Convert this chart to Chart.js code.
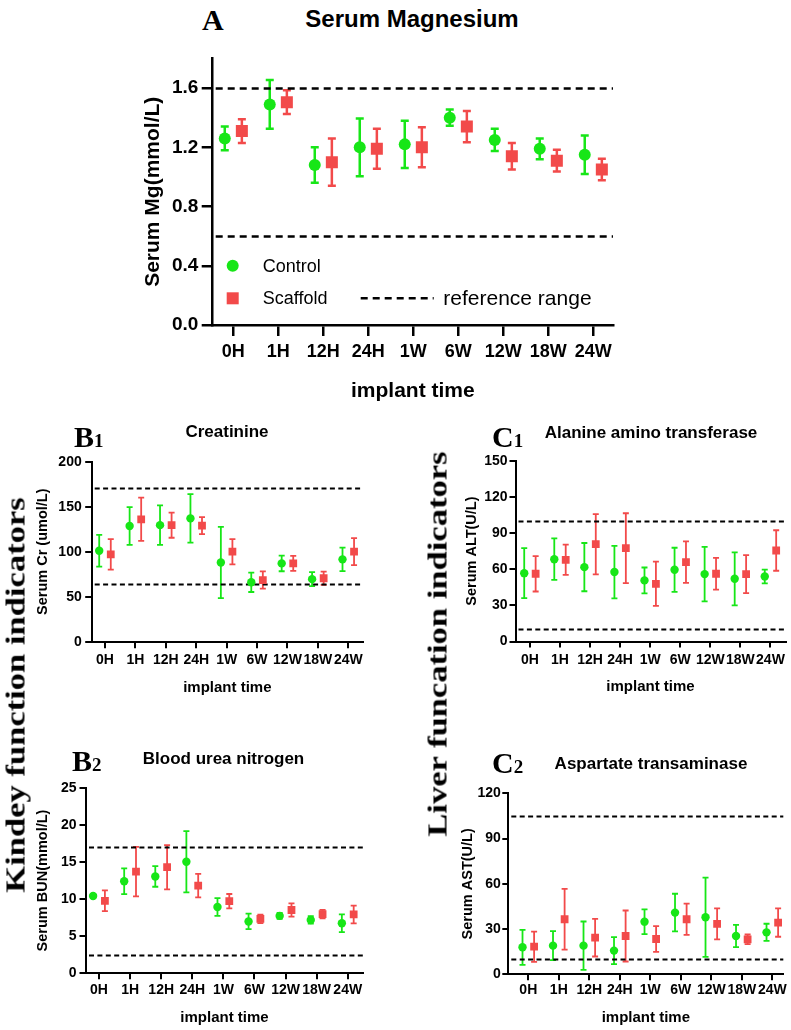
<!DOCTYPE html>
<html>
<head>
<meta charset="utf-8">
<script src="https://cdn.jsdelivr.net/npm/chart.js@4/dist/chart.umd.min.js"></script>
<style>
  html, body { margin:0; padding:0; background:#fff; }
  body { width:791px; height:1030px; position:relative; overflow:hidden; font-family:'Liberation Sans', Arial, sans-serif; }
  canvas { position:absolute; }
  .t { position:absolute; white-space:nowrap; line-height:1; color:#000; transform:translate(-50%,-50%); font-weight:bold; }
  .lab { position:absolute; white-space:nowrap; line-height:30px; height:30px; color:#000; transform:translateY(-50%); font:bold 30px 'Liberation Serif', 'Times New Roman', serif; }
  .lab span { font-size:19px; line-height:0; }
  .rot { position:absolute; white-space:nowrap; line-height:1; color:#000; font:bold 27px 'Liberation Serif', 'Times New Roman', serif; transform:translate(-50%,-50%) rotate(-90deg) scaleX(1.28); }
</style>
</head>
<body>
<canvas id="cA"></canvas>
<canvas id="cB1"></canvas>
<canvas id="cB2"></canvas>
<canvas id="cC1"></canvas>
<canvas id="cC2"></canvas>

<div class="lab" style="left:202px;top:18px;">A</div>
<div class="t" style="left:412px;top:19px;font-size:24px;">Serum Magnesium</div>
<div class="lab" style="left:74px;top:435px;">B<span>1</span></div>
<div class="t" style="left:227px;top:431px;font-size:17px;">Creatinine</div>
<div class="lab" style="left:492px;top:435px;">C<span>1</span></div>
<div class="t" style="left:651px;top:431.5px;font-size:17px;">Alanine amino transferase</div>
<div class="lab" style="left:72px;top:759px;">B<span>2</span></div>
<div class="t" style="left:223.5px;top:758px;font-size:17px;">Blood urea nitrogen</div>
<div class="lab" style="left:492px;top:761px;">C<span>2</span></div>
<div class="t" style="left:651px;top:763px;font-size:17px;">Aspartate transaminase</div>
<div class="rot" style="left:16px;top:695px;">Kindey function indicators</div>
<div class="rot" style="left:437.5px;top:644px;">Liver funcation indicators</div>

<script>
// ---------------- DATA ----------------
const categories = ['0H', '1H', '12H', '24H', '1W', '6W', '12W', '18W', '24W'];

// A: Serum Mg (mmol/L)
const mgControl      = [1.26, 1.49, 1.08, 1.20, 1.22, 1.40, 1.25, 1.19, 1.15];
const mgControlSD    = [0.08, 0.165, 0.12, 0.195, 0.16, 0.055, 0.075, 0.07, 0.13];
const mgScaffold     = [1.31, 1.505, 1.10, 1.19, 1.20, 1.34, 1.14, 1.11, 1.05];
const mgScaffoldSD   = [0.08, 0.08, 0.16, 0.135, 0.135, 0.105, 0.09, 0.073, 0.073];
const mgReference    = [0.6, 1.6];
const mgTicks        = [0, 0.4, 0.8, 1.2, 1.6];

// B1: Serum Cr (umol/L)
const crControl      = [101, 128.5, 129.5, 137, 88, 66, 87, 69.5, 91.5];
const crControlSD    = [17.6, 21, 22, 27, 39.5, 10.8, 8.7, 7.8, 13];
const crScaffold     = [97, 136, 129.5, 129, 100, 68.5, 87, 70.5, 100];
const crScaffoldSD   = [17, 24, 14, 9.4, 14, 9.6, 8.3, 7.4, 15];
const crReference    = [64, 171];
const crTicks        = [0, 50, 100, 150, 200];

// B2: Serum BUN (mmol/L)
const bunControl     = [10.4, 12.4, 13.05, 15.05, 8.9, 6.95, 7.7, 7.15, 6.7];
const bunControlSD   = [0.3, 1.75, 1.4, 4.15, 1.2, 1.05, 0.4, 0.5, 1.2];
const bunScaffold    = [9.75, 13.7, 14.3, 11.8, 9.7, 7.3, 8.5, 7.95, 7.9];
const bunScaffoldSD  = [1.4, 3.35, 3.0, 1.6, 0.97, 0.57, 0.9, 0.57, 1.2];
const bunReference   = [2.4, 17];
const bunTicks       = [0, 5, 10, 15, 20, 25];

// C1: Serum ALT (U/L)
const altControl     = [56.7, 68.3, 61.7, 57.6, 50.7, 59.5, 55.9, 52, 54];
const altControlSD   = [20.7, 17.2, 20, 21.8, 10.7, 18.3, 22.6, 22, 5.7];
const altScaffold    = [56.2, 67.8, 80.7, 77.4, 47.9, 65.9, 56.2, 55.9, 75.5];
const altScaffoldSD  = [14.7, 12.6, 25, 29, 18.3, 17.2, 13.2, 15.8, 16.8];
const altReference   = [10, 100];
const altTicks       = [0, 30, 60, 90, 120, 150];

// C2: Serum AST (U/L)
const astControl     = [17.9, 19.0, 19.0, 15.7, 34.9, 40.9, 37.8, 25.4, 27.8];
const astControlSD   = [11.6, 9.6, 16, 9.0, 8.2, 12.5, 26.3, 7.4, 5.7];
const astScaffold    = [18.3, 36.5, 24.3, 25.4, 23.4, 36.5, 33.4, 23.2, 34.3];
const astScaffoldSD  = [10, 20.2, 12.5, 16.9, 8.5, 10.3, 10.3, 3.2, 9.4];
const astReference   = [10, 105];
const astTicks       = [0, 30, 60, 90, 120];

// ---------------- STYLE ----------------
const GREEN = '#17e617';
const RED = '#f24a4a';
const DODGE = 0.19;
const SANS = "'Liberation Sans', Arial, sans-serif";
Chart.defaults.font.family = SANS;
Chart.defaults.color = '#000';

const errorBarPlugin = {
  id: 'errorBars',
  beforeDatasetsDraw(chart, args, opts) {
    const ctx = chart.ctx, ys = chart.scales.y;
    chart.data.datasets.forEach((ds, di) => {
      const meta = chart.getDatasetMeta(di);
      ctx.save();
      ctx.strokeStyle = ds.borderColor;
      ctx.lineWidth = opts.width;
      meta.data.forEach((pt, i) => {
        const v = ds.data[i].y, e = ds.errors[i];
        const yt = ys.getPixelForValue(v + e), yb = ys.getPixelForValue(v - e);
        ctx.beginPath();
        ctx.moveTo(pt.x, yt); ctx.lineTo(pt.x, yb);
        ctx.moveTo(pt.x - opts.cap, yt); ctx.lineTo(pt.x + opts.cap, yt);
        ctx.moveTo(pt.x - opts.cap, yb); ctx.lineTo(pt.x + opts.cap, yb);
        ctx.stroke();
      });
      ctx.restore();
    });
  }
};

const refLinePlugin = {
  id: 'refLines',
  beforeDatasetsDraw(chart, args, opts) {
    const ctx = chart.ctx, ys = chart.scales.y, ca = chart.chartArea;
    ctx.save();
    ctx.setLineDash(opts.dash);
    ctx.lineWidth = opts.width;
    ctx.strokeStyle = '#000';
    opts.values.forEach(v => {
      const py = Math.round(ys.getPixelForValue(v)) + 0.5;
      ctx.beginPath();
      ctx.moveTo(ca.left + opts.inset, py);
      ctx.lineTo(ca.right, py);
      ctx.stroke();
    });
    ctx.restore();
  }
};

const legendPlugin = {
  id: 'insideLegend',
  afterDraw(chart, args, opts) {
    const ctx = chart.ctx, ca = chart.chartArea;
    const mx = ca.left + 20, y1 = ca.top + 207.2, y2 = ca.top + 239.8;
    ctx.save();
    ctx.fillStyle = GREEN;
    ctx.beginPath(); ctx.arc(mx, y1, 6, 0, Math.PI * 2); ctx.fill();
    ctx.fillStyle = RED;
    ctx.fillRect(mx - 6, y2 - 6, 12, 12);
    ctx.fillStyle = '#000';
    ctx.textBaseline = 'middle';
    ctx.textAlign = 'left';
    ctx.font = '18px ' + SANS;
    ctx.fillText('Control', ca.left + 50, y1 + 1);
    ctx.fillText('Scaffold', ca.left + 50, y2 + 1);
    ctx.strokeStyle = '#000';
    ctx.lineWidth = 2.5;
    ctx.setLineDash([7, 5]);
    ctx.beginPath(); ctx.moveTo(ca.left + 148, y2); ctx.lineTo(ca.left + 221, y2); ctx.stroke();
    ctx.font = '21px ' + SANS;
    ctx.fillText('reference range', ca.left + 230.6, y2 + 1);
    ctx.restore();
  }
};

function makePanel(id, p) {
  const cv = document.getElementById(id);
  cv.width = p.box.w; cv.height = p.box.h;
  cv.style.left = p.box.x + 'px'; cv.style.top = p.box.y + 'px';
  const yW = p.area.l - p.box.x;
  const xH = p.box.y + p.box.h - p.area.b;
  const padTop = p.area.t - p.box.y;
  const padRight = p.box.x + p.box.w - p.area.r;
  const yTitlePad = p.yTitleX - p.box.x - p.yTitleSize * 0.6;
  const xTitlePad = p.box.y + p.box.h - p.xTitleY - p.xTitleSize * 0.6;
  const plugins = [errorBarPlugin, refLinePlugin];
  if (p.legend) plugins.push(legendPlugin);
  return new Chart(cv, {
    type: 'scatter',
    data: {
      datasets: [
        { label: 'Control', data: p.control.map((v, i) => ({ x: i - DODGE, y: v })), errors: p.controlSD,
          pointStyle: 'circle', pointRadius: p.rC, backgroundColor: GREEN, borderColor: GREEN, borderWidth: 0 },
        { label: 'Scaffold', data: p.scaffold.map((v, i) => ({ x: i + DODGE, y: v })), errors: p.scaffoldSD,
          pointStyle: 'rect', pointRadius: p.rS, backgroundColor: RED, borderColor: RED, borderWidth: 0 }
      ]
    },
    options: {
      responsive: false, animation: false, devicePixelRatio: 1,
      layout: { padding: { left: 0, top: padTop, right: padRight, bottom: 0 } },
      plugins: {
        legend: { display: false }, tooltip: { enabled: false }, title: { display: false },
        errorBars: { width: p.ebW, cap: p.cap },
        refLines: { values: p.ref, dash: p.dash, width: p.refW, inset: 3 }
      },
      scales: {
        x: {
          type: 'linear', min: p.xMin, max: p.xMax,
          afterBuildTicks: ax => { ax.ticks = categories.map((c, i) => ({ value: i })); },
          afterFit: s => { s.height = xH; },
          ticks: { callback: v => categories[v], font: { size: p.xTickSize, weight: 'bold' }, color: '#000',
                   padding: p.xTickPad, maxRotation: 0, minRotation: 0, autoSkip: false },
          grid: { display: true, drawOnChartArea: false, drawTicks: true, tickLength: p.tl,
                  lineWidth: p.axW, tickWidth: p.axW, tickColor: '#000', color: '#000' },
          border: { display: true, width: p.axW, color: '#000' },
          title: { display: true, text: 'implant time', color: '#000',
                   font: { size: p.xTitleSize, weight: 'bold', lineHeight: 1.2 }, padding: { top: 0, bottom: xTitlePad } }
        },
        y: {
          type: 'linear', min: 0, max: p.yMax,
          afterBuildTicks: ax => { ax.ticks = p.yTicks.map(v => ({ value: v })); },
          afterFit: s => { s.width = yW; },
          ticks: { callback: v => p.yFmt(v), font: { size: p.yTickSize, weight: 'bold' }, color: '#000', padding: p.yTickPad },
          grid: { display: true, drawOnChartArea: false, drawTicks: true, tickLength: p.tl,
                  lineWidth: p.axW, tickWidth: p.axW, tickColor: '#000', color: '#000' },
          border: { display: true, width: p.axW, color: '#000' },
          title: { display: true, text: p.yTitle, color: '#000',
                   font: { size: p.yTitleSize, weight: 'bold', lineHeight: 1.2 }, padding: { top: yTitlePad, bottom: 0 } }
        }
      }
    },
    plugins: plugins
  });
}

const intFmt = v => String(v);
const small = { rC: 4.2, rS: 5.5, ebW: 1.8, cap: 3, dash: [5, 3.4], refW: 2, axW: 2, tl: 6.5,
                xTickSize: 14, yTickSize: 14, xTitleSize: 15, yTitleSize: 14.5 };

makePanel('cA', {
  box: { x: 130, y: 40, w: 510, h: 372 }, area: { l: 212.7, t: 58.5, r: 613, b: 325 },
  xMin: -0.458, xMax: 8.438, yMax: 1.8, yTicks: mgTicks, yFmt: v => v.toFixed(1),
  control: mgControl, controlSD: mgControlSD, scaffold: mgScaffold, scaffoldSD: mgScaffoldSD, ref: mgReference,
  yTitle: 'Serum Mg(mmol/L)', yTitleX: 153, xTitleY: 391.7,
  rC: 6, rS: 8.5, ebW: 2.5, cap: 4, dash: [7, 5], refW: 2.5, axW: 2.5, tl: 11,
  xTickSize: 18, yTickSize: 19, xTitleSize: 21, yTitleSize: 21, xTickPad: 5, yTickPad: 3.4, legend: true
});

makePanel('cB1', Object.assign({}, small, {
  box: { x: 28, y: 445, w: 355, h: 255 }, area: { l: 91.7, t: 461.7, r: 363, b: 641.7 },
  xMin: -0.437, xMax: 8.484, yMax: 200, yTicks: crTicks, yFmt: intFmt,
  control: crControl, controlSD: crControlSD, scaffold: crScaffold, scaffoldSD: crScaffoldSD, ref: crReference,
  yTitle: 'Serum Cr (umol/L)', yTitleX: 43, xTitleY: 687.7, xTickPad: 3.4, yTickPad: 3.5
}));

makePanel('cB2', Object.assign({}, small, {
  box: { x: 28, y: 772, w: 355, h: 258 }, area: { l: 86, t: 788.3, r: 363, b: 972.7 },
  xMin: -0.418, xMax: 8.49, yMax: 25, yTicks: bunTicks, yFmt: intFmt,
  control: bunControl, controlSD: bunControlSD, scaffold: bunScaffold, scaffoldSD: bunScaffoldSD, ref: bunReference,
  yTitle: 'Serum BUN(mmol/L)', yTitleX: 43, xTitleY: 1018, xTickPad: 2.4, yTickPad: 3
}));

makePanel('cC1', Object.assign({}, small, {
  box: { x: 455, y: 445, w: 336, h: 255 }, area: { l: 515.5, t: 460.7, r: 786.7, b: 641.5 },
  xMin: -0.48, xMax: 8.5, yMax: 150, yTicks: altTicks, yFmt: intFmt,
  control: altControl, controlSD: altControlSD, scaffold: altScaffold, scaffoldSD: altScaffoldSD, ref: altReference,
  yTitle: 'Serum ALT(U/L)', yTitleX: 472, xTitleY: 686.7, xTickPad: 3.8, yTickPad: 2, tl: 6
}));

makePanel('cC2', Object.assign({}, small, {
  box: { x: 450, y: 777, w: 341, h: 253 }, area: { l: 508.3, t: 793.3, r: 783.3, b: 974.3 },
  xMin: -0.656, xMax: 8.36, yMax: 120, yTicks: astTicks, yFmt: intFmt,
  control: astControl, controlSD: astControlSD, scaffold: astScaffold, scaffoldSD: astScaffoldSD, ref: astReference,
  yTitle: 'Serum AST(U/L)', yTitleX: 468, xTitleY: 1018, xTickPad: 1.7, yTickPad: 1.5, tl: 6
}));
</script>
</body>
</html>
